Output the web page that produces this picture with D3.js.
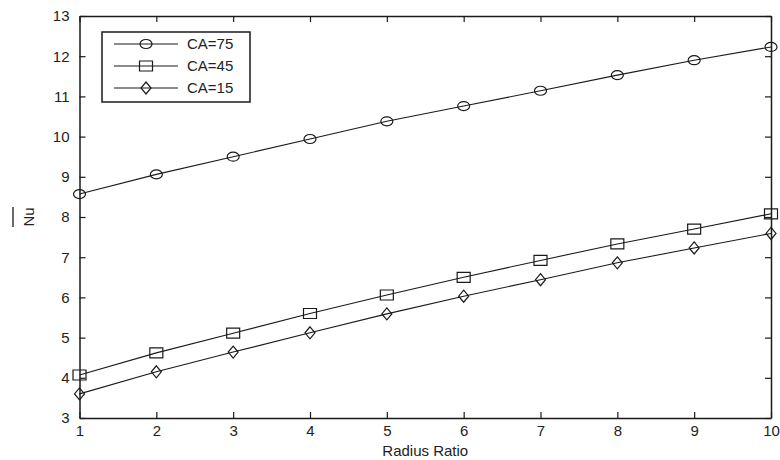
<!DOCTYPE html>
<html>
<head>
<meta charset="utf-8">
<script src="https://cdn.jsdelivr.net/npm/d3@7"></script>
<style>
  html, body { margin: 0; padding: 0; background: #fff; }
  svg text { font-family: "Liberation Sans", Arial, sans-serif; fill: #222; }
</style>
</head>
<body>
<svg id="chart" width="780" height="460"></svg>
<script>
// Mean Nusselt number against radius ratio for three contact angles
const radiusRatio = [1, 2, 3, 4, 5, 6, 7, 8, 9, 10];
const ca75 = [8.57, 9.06, 9.5, 9.94, 10.38, 10.76, 11.14, 11.53, 11.9, 12.23];
const ca45 = [4.07, 4.62, 5.11, 5.6, 6.06, 6.5, 6.92, 7.33, 7.7, 8.08];
const ca15 = [3.6, 4.15, 4.64, 5.12, 5.59, 6.03, 6.44, 6.86, 7.23, 7.59];
const seriesNames = ["CA=75", "CA=45", "CA=15"];
const markerShapes = ["circle", "square", "diamond"];
const xTicks = [1, 2, 3, 4, 5, 6, 7, 8, 9, 10];
const yTicks = [3, 4, 5, 6, 7, 8, 9, 10, 11, 12, 13];

const series = [ca75, ca45, ca15].map((vals, i) => ({
  name: seriesNames[i],
  shape: markerShapes[i],
  points: vals.map((v, j) => ({ x: radiusRatio[j], y: v }))
}));

const margin = { left: 79.5, right: 9, top: 16, bottom: 42 };
const W = 780, H = 460;
const svg = d3.select("#chart");

const x = d3.scaleLinear().domain([1, 10]).range([margin.left, W - margin.right]);
const y = d3.scaleLinear().domain([3, 13]).range([H - margin.bottom, margin.top]);

const ink = "#1a1a1a";
const tickLen = 6;
const fontSize = 15;

// marker outlines, slightly wider than tall
function ellipsePath(rx, ry) {
  return `M${-rx},0A${rx},${ry} 0 1,0 ${rx},0A${rx},${ry} 0 1,0 ${-rx},0Z`;
}
function shapePath(shape) {
  if (shape === "circle") return ellipsePath(6, 4.5);
  if (shape === "square") return "M-6.5,-5H6.5V5H-6.5Z";
  return "M0,-6L5,0L0,6L-5,0Z";
}

// axes: bottom and left with labels, top and right ticks only, all ticks inward
const gx = svg.append("g").attr("transform", `translate(0,${y(3)})`)
  .call(d3.axisBottom(x).tickValues(xTicks).tickFormat(d3.format("d"))
    .tickSizeInner(-tickLen).tickSizeOuter(0).tickPadding(7));
const gy = svg.append("g").attr("transform", `translate(${x(1)},0)`)
  .call(d3.axisLeft(y).tickValues(yTicks).tickFormat(d3.format("d"))
    .tickSizeInner(-tickLen).tickSizeOuter(0).tickPadding(10));
const gxt = svg.append("g").attr("transform", `translate(0,${y(13)})`)
  .call(d3.axisTop(x).tickValues(xTicks).tickFormat("")
    .tickSizeInner(-tickLen).tickSizeOuter(0));
const gyr = svg.append("g").attr("transform", `translate(${x(10)},0)`)
  .call(d3.axisRight(y).tickValues(yTicks).tickFormat("")
    .tickSizeInner(-tickLen).tickSizeOuter(0));

[gx, gy, gxt, gyr].forEach(g => {
  g.select(".domain").attr("stroke", ink).attr("stroke-width", 1.5);
  g.selectAll(".tick line").attr("stroke", ink).attr("stroke-width", 1.2);
  g.selectAll(".tick text").attr("font-size", fontSize)
    .attr("font-family", "'Liberation Sans', Arial, sans-serif").attr("fill", "#222");
});

// axis titles
svg.append("text")
  .attr("x", (x(1) + x(10)) / 2).attr("y", 456)
  .attr("text-anchor", "middle").attr("font-size", fontSize)
  .text("Radius Ratio");

const yMid = (y(3) + y(13)) / 2;
const yl = svg.append("g").attr("transform", `translate(29,${yMid}) rotate(-90)`);
yl.append("text").attr("text-anchor", "middle").attr("dy", "0.35em")
  .attr("font-size", fontSize).text("Nu");
yl.append("line").attr("x1", -10).attr("x2", 10).attr("y1", -16).attr("y2", -16)
  .attr("stroke", ink).attr("stroke-width", 1.3);

// data lines and markers
const line = d3.line().x(d => x(d.x)).y(d => y(d.y));
series.forEach(s => {
  svg.append("path").datum(s.points)
    .attr("d", line).attr("fill", "none")
    .attr("stroke", ink).attr("stroke-width", 1.1);
  svg.append("g").selectAll("path").data(s.points).join("path")
    .attr("transform", d => `translate(${x(d.x)},${y(d.y)})`)
    .attr("d", shapePath(s.shape))
    .attr("fill", "none").attr("stroke", ink).attr("stroke-width", 1.2);
});

// legend
const legend = svg.append("g");
legend.append("rect").attr("x", 102).attr("y", 32).attr("width", 148).attr("height", 70)
  .attr("fill", "#fff").attr("stroke", ink).attr("stroke-width", 1.5);
series.forEach((s, i) => {
  const ly = 44 + i * 22;
  legend.append("line").attr("x1", 114).attr("x2", 178).attr("y1", ly).attr("y2", ly)
    .attr("stroke", ink).attr("stroke-width", 1.1);
  legend.append("path").attr("transform", `translate(146,${ly})`)
    .attr("d", shapePath(s.shape))
    .attr("fill", "none").attr("stroke", ink).attr("stroke-width", 1.2);
  legend.append("text").attr("x", 187).attr("y", ly).attr("dy", "0.36em")
    .attr("font-size", fontSize).text(s.name);
});
</script>
</body>
</html>
